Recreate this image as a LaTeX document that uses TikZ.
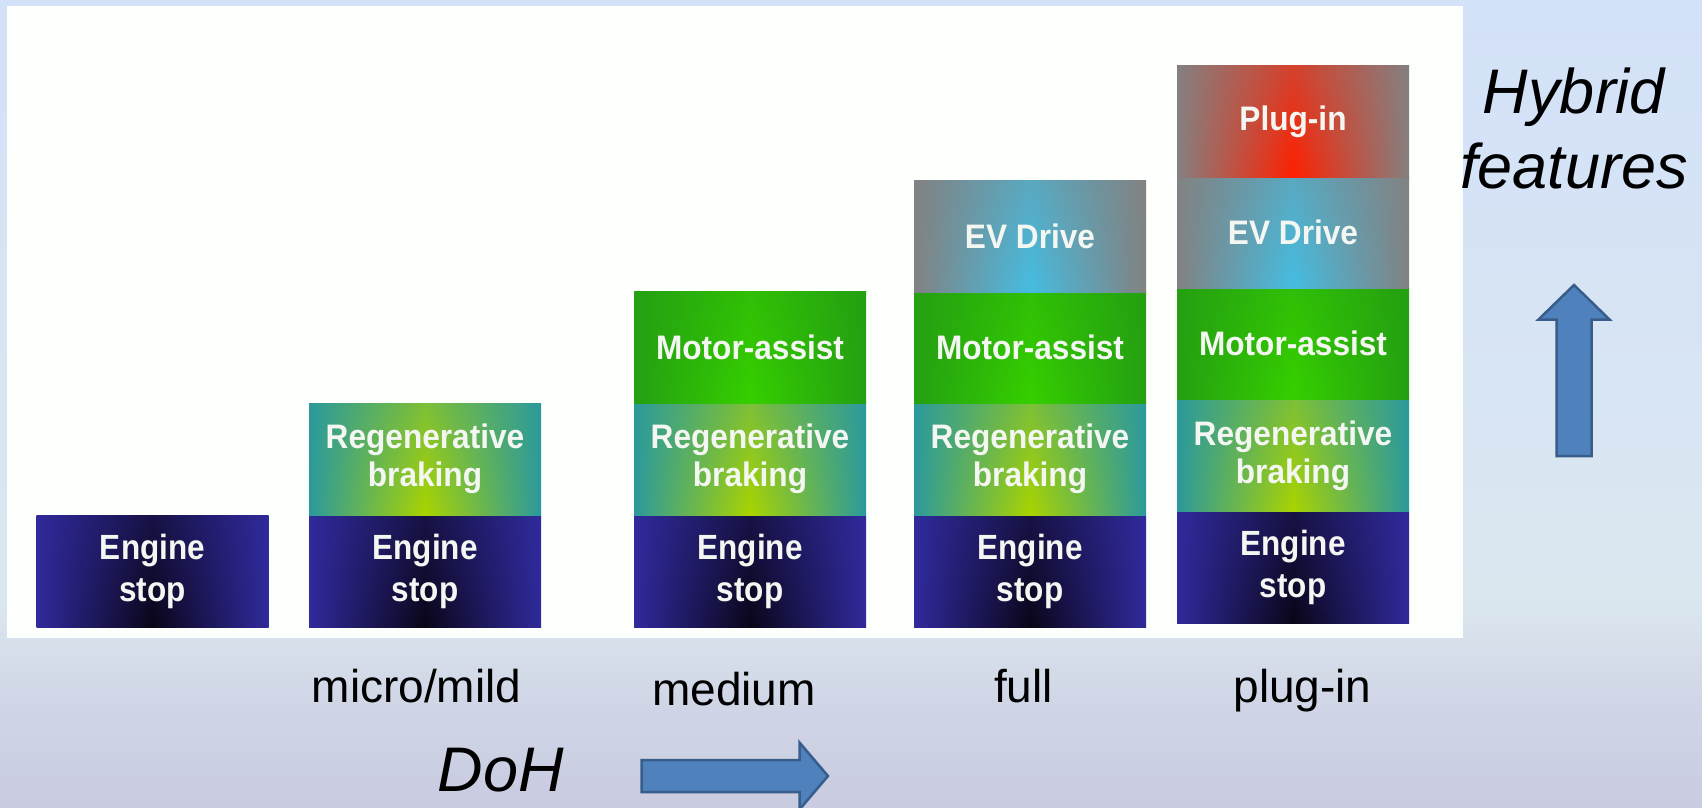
\documentclass[tikz,border=0pt]{standalone}
\usepackage{fontspec}
\setmainfont{Liberation Sans}
\newfontfamily\segfontA[FakeStretch=0.9]{Liberation Sans}
\newfontfamily\segfontB[FakeStretch=0.93]{Liberation Sans}
\usetikzlibrary{fadings}
\definecolor{bgtop}{HTML}{D3E1F9}
\definecolor{bgmid}{HTML}{DBE7EF}
\definecolor{bglav}{HTML}{D0D6E6}
\definecolor{bgbot}{HTML}{C9CBE1}
\definecolor{panel}{HTML}{FDFFFD}
\definecolor{engE}{HTML}{302A9C}
\definecolor{engC}{HTML}{0A0618}
\definecolor{regE}{HTML}{2C9A9C}
\definecolor{regC}{HTML}{AAD400}
\definecolor{motE}{HTML}{25A012}
\definecolor{motC}{HTML}{36D000}
\definecolor{evE}{HTML}{828282}
\definecolor{evC}{HTML}{44BEE2}
\definecolor{plgE}{HTML}{858080}
\definecolor{plgC}{HTML}{FF2000}
\definecolor{arrFill}{HTML}{4F81BD}
\definecolor{arrLine}{HTML}{385D8A}
\definecolor{segtext}{HTML}{F4F6F2}
\pgfdeclareverticalshading{bgshade}{100bp}{color(0bp)=(bgbot); color(25bp)=(bgbot);
  color(31.6bp)=(bglav); color(37.8bp)=(bgmid); color(75bp)=(bgtop); color(100bp)=(bgtop)}
\tikzfading[name=topfade, top color=transparent!65, bottom color=transparent!100]
\begin{document}
\begin{tikzpicture}[x=1pt,y=-1pt,
  seg/.style={minimum width=232pt, minimum height=112pt, inner sep=0pt, outer sep=0pt,
    text=segtext, align=center},
  segshade/.style 2 args={left color=#1, right color=#1, middle color=#2,
    postaction={fill=#1, path fading=topfade}},
  eng/.style={seg, segshade={engE}{engC}, font=\segfontA\fontsize{35}{42}\selectfont\bfseries},
  reg/.style={seg, segshade={regE}{regC}, font=\segfontB\fontsize{34}{38}\selectfont\bfseries},
  mot/.style={seg, segshade={motE}{motC}, font=\segfontB\fontsize{34}{38}\selectfont\bfseries},
  ev/.style={seg, segshade={evE}{evC}, font=\segfontB\fontsize{34}{38}\selectfont\bfseries},
  plg/.style={seg, segshade={plgE}{plgC}, font=\segfontB\fontsize{34}{38}\selectfont\bfseries},
  cat/.style={anchor=base, inner sep=0pt, font=\fontsize{46}{55}\selectfont},
  bigit/.style={inner sep=0pt, font=\fontsize{63}{75}\selectfont\itshape},
  bluearrow/.style={fill=arrFill, draw=arrLine, line width=2.5pt, line join=miter}
]
\useasboundingbox (0,0) rectangle (1702,807);
% background
\shade[shading=bgshade] (0,0) rectangle (1702,807);
% white panel
\fill[panel] (7,6) rectangle (1463,638);

% bar 1
\node[eng] (b1e) at (152.5,571) {Engine\\stop};
% bar 2
\node[eng] (b2e) at (425,571) {Engine\\stop};
\node[reg] (b2r) at (425,459) {Regenerative\\braking};
% bar 3
\node[eng] (b3e) at (750,571) {Engine\\stop};
\node[reg] (b3r) at (750,459) {Regenerative\\braking};
\node[mot] (b3m) at (750,347) {Motor-assist};
% bar 4
\node[eng] (b4e) at (1030,571) {Engine\\stop};
\node[reg] (b4r) at (1030,459) {Regenerative\\braking};
\node[mot] (b4m) at (1030,347) {Motor-assist};
\node[ev]  (b4v) at (1030,236.5) {EV Drive};
% bar 5
\node[eng] (b5e) at (1293,567) {Engine\\stop};
\node[reg] (b5r) at (1293,455.5) {Regenerative\\braking};
\node[mot] (b5m) at (1293,343.5) {Motor-assist};
\node[ev]  (b5v) at (1293,232) {EV Drive};
\node[plg] (b5p) at (1293,121.5) {Plug-in};

% category labels
\node[cat] (lmicro) at (416.5,702) {micro/mild};
\node[cat] (lmed) at (734,705) {medium};
\node[cat] (lfull) at (1023.5,702) {full};
\node[cat] (lplug) at (1302.5,702) {plug-in};

% DoH
\node[bigit, anchor=base] (doh) at (501,791.5) {DoH};
\draw[bluearrow] (641.5,760) -- (799.5,760) -- (799.5,742.5) -- (828,776)
  -- (799.5,809.5) -- (799.5,792) -- (641.5,792) -- cycle;

% Hybrid features
\node[bigit, anchor=north, align=center] (hyb) at (1574,68) {Hybrid\\features};
\draw[bluearrow] (1556.5,456) -- (1556.5,319.5) -- (1538.5,319.5) -- (1574,285)
  -- (1609.5,319.5) -- (1591.5,319.5) -- (1591.5,456) -- cycle;
\end{tikzpicture}
\end{document}
